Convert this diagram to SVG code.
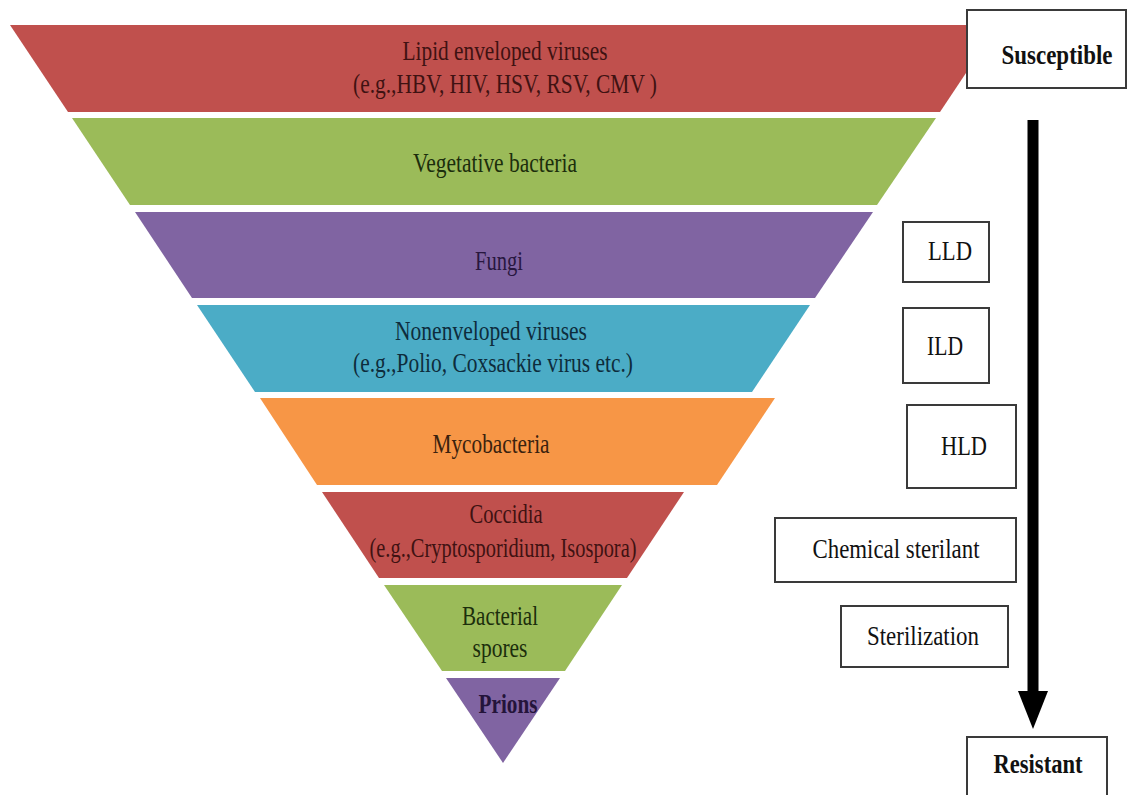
<svg xmlns="http://www.w3.org/2000/svg" width="1129" height="795" viewBox="0 0 1129 795">
<style>
.t{font-family:"Liberation Serif","Times New Roman",serif;font-size:27px;text-anchor:middle}
.b{font-weight:bold}
.box{fill:#fff;stroke:#3a3a3a;stroke-width:2}
</style>
<defs>
<marker id="ah" markerUnits="userSpaceOnUse" markerWidth="38" markerHeight="30" refX="0" refY="15" orient="auto" viewBox="0 0 38 30">
<path d="M0,0 L38,15 L0,30 Z" fill="#000"/>
</marker>
</defs>
<rect width="1129" height="795" fill="#fff"/>
<g id="band1"><polygon points="10,25 998,25 940,112 68,112" fill="#C0504D"/>
<text class="t" x="505" y="60" fill="#3f1212" textLength="205" lengthAdjust="spacingAndGlyphs">Lipid enveloped viruses</text>
<text class="t" x="505" y="93" fill="#3f1212" textLength="304" lengthAdjust="spacingAndGlyphs">(e.g.,HBV, HIV, HSV, RSV, CMV )</text></g>
<g id="band2"><polygon points="72,118 936,118 877,205 130,205" fill="#9BBB59"/>
<text class="t" x="495" y="172" fill="#1c2e0c" textLength="164" lengthAdjust="spacingAndGlyphs">Vegetative bacteria</text></g>
<g id="band3"><polygon points="135,212 873,212 815,298 192,298" fill="#8064A2"/>
<text class="t" x="499" y="270" fill="#28173f" textLength="48" lengthAdjust="spacingAndGlyphs">Fungi</text></g>
<g id="band4"><polygon points="197,305 810,305 752,392 255,392" fill="#4BACC6"/>
<text class="t" x="491" y="340" fill="#0e2c3c" textLength="192" lengthAdjust="spacingAndGlyphs">Nonenveloped viruses</text>
<text class="t" x="493" y="372" fill="#0e2c3c" textLength="280" lengthAdjust="spacingAndGlyphs">(e.g.,Polio, Coxsackie virus etc.)</text></g>
<g id="band5"><polygon points="260,398 775,398 717,485 317,485" fill="#F79646"/>
<text class="t" x="491" y="453" fill="#3a220e" textLength="117" lengthAdjust="spacingAndGlyphs">Mycobacteria</text></g>
<g id="band6"><polygon points="322,492 684,492 627,578 379,578" fill="#C0504D"/>
<text class="t" x="506" y="523" fill="#3f1212" textLength="73" lengthAdjust="spacingAndGlyphs">Coccidia</text>
<text class="t" x="503" y="557" fill="#3f1212" textLength="267" lengthAdjust="spacingAndGlyphs">(e.g.,Cryptosporidium, Isospora)</text></g>
<g id="band7"><polygon points="384,585 622,585 565,671 442,671" fill="#9BBB59"/>
<text class="t" x="500" y="625" fill="#1c2e0c" textLength="76" lengthAdjust="spacingAndGlyphs">Bacterial</text>
<text class="t" x="500" y="657" fill="#1c2e0c" textLength="55" lengthAdjust="spacingAndGlyphs">spores</text></g>
<g id="band8"><polygon points="446,678 560,678 503,763" fill="#8064A2"/>
<text class="t b" x="508" y="713" fill="#24143a" textLength="59" lengthAdjust="spacingAndGlyphs">Prions</text></g>
<g id="connectors">
<line x1="1033" y1="120" x2="1033" y2="691" stroke="#000" stroke-width="11" marker-end="url(#ah)"/>
</g>
<g id="susceptible"><rect class="box" x="967" y="10" width="159" height="78"/>
<text class="t b" x="0" y="0" transform="translate(1057,64) scale(0.85,1)" fill="#111" font-size="23">Susceptible</text></g>
<g id="lld"><rect class="box" x="903" y="222" width="86" height="60"/>
<text class="t" x="950" y="260" fill="#111" textLength="44" lengthAdjust="spacingAndGlyphs">LLD</text></g>
<g id="ild"><rect class="box" x="903" y="308" width="86" height="75"/>
<text class="t" x="945" y="355" fill="#111" textLength="36" lengthAdjust="spacingAndGlyphs">ILD</text></g>
<g id="hld"><rect class="box" x="907" y="405" width="109" height="83"/>
<text class="t" x="964" y="455" fill="#111" textLength="46" lengthAdjust="spacingAndGlyphs">HLD</text></g>
<g id="chem"><rect class="box" x="775" y="518" width="241" height="64"/>
<text class="t" x="896" y="558" fill="#111" textLength="167" lengthAdjust="spacingAndGlyphs">Chemical sterilant</text></g>
<g id="steril"><rect class="box" x="841" y="606" width="167" height="61"/>
<text class="t" x="923" y="645" fill="#111" textLength="112" lengthAdjust="spacingAndGlyphs">Sterilization</text></g>
<g id="resistant"><rect class="box" x="967" y="737" width="140" height="70"/>
<text class="t b" x="1038" y="773" fill="#111" font-size="28" textLength="89" lengthAdjust="spacingAndGlyphs">Resistant</text></g>
</svg>
